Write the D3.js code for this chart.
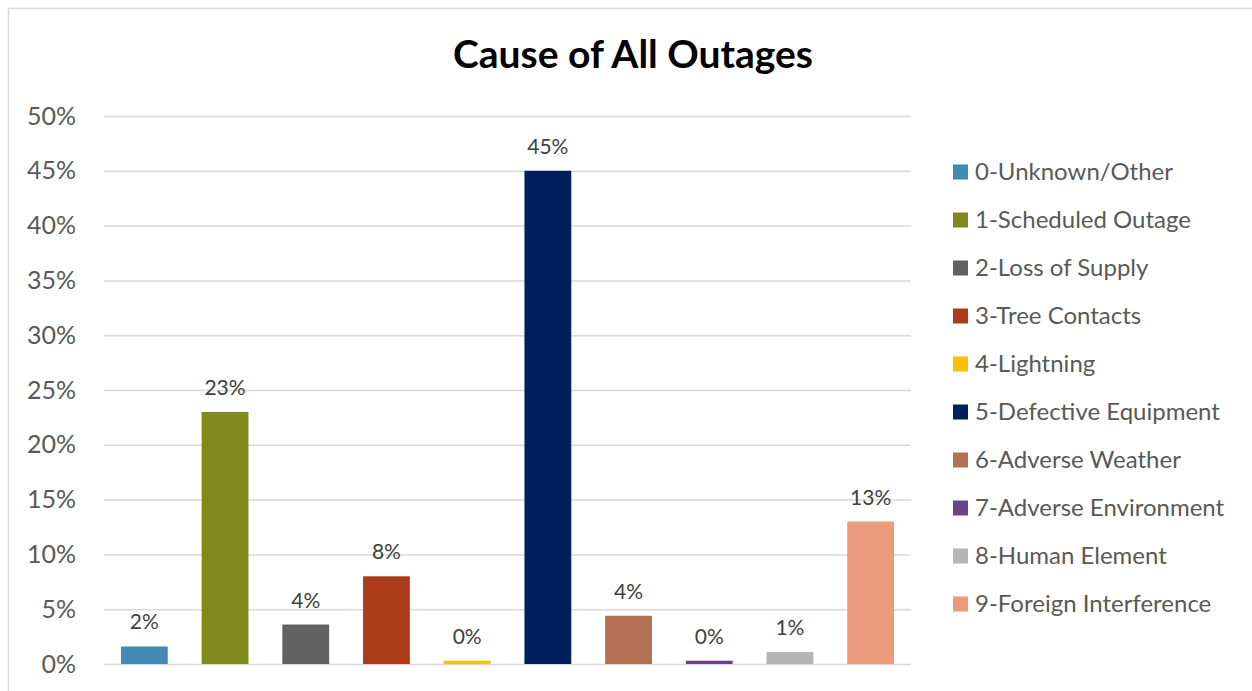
<!DOCTYPE html>
<html>
<head>
<meta charset="utf-8">
<script src="https://cdn.jsdelivr.net/npm/d3@7"></script>
<style>
  html, body { margin: 0; padding: 0; background: #ffffff; }
  svg { display: block; font-family: Lato, "Open Sans", sans-serif; }
</style>
</head>
<body>
<svg id="chart" width="1252" height="691"></svg>
<script>
// Outage causes and their share of all outages
const causes = [
  "0-Unknown/Other", "1-Scheduled Outage", "2-Loss of Supply", "3-Tree Contacts",
  "4-Lightning", "5-Defective Equipment", "6-Adverse Weather",
  "7-Adverse Environment", "8-Human Element", "9-Foreign Interference"
];
const shares = [0.016, 0.23, 0.036, 0.08, 0.003, 0.45, 0.044, 0.003, 0.011, 0.13];
const colors = [
  "#418ab3", "#7e8a1e", "#626262", "#ab3b1b", "#fcc000",
  "#011f5b", "#b37055", "#6a428a", "#b5b5b5", "#ec9a7c"
];
const yTicks = [0, 0.05, 0.10, 0.15, 0.20, 0.25, 0.30, 0.35, 0.40, 0.45, 0.50];
const title = "Cause of All Outages";

const svg = d3.select("#chart");
const W = 1252, H = 691;
const plot = { left: 104, right: 911, top: 116, bottom: 664 };
const pct = d3.format(".0%");

// Outer chart frame
svg.append("rect")
  .attr("x", 8.5).attr("y", 8.5)
  .attr("width", W).attr("height", H)
  .attr("fill", "none").attr("stroke", "#d9d9d9").attr("stroke-width", 1.5);

// Title
svg.append("text")
  .attr("x", 633).attr("y", 68)
  .attr("text-anchor", "middle")
  .attr("font-size", 39).attr("font-weight", 700)
  .attr("fill", "#000000")
  .text(title);

const x = d3.scaleBand()
  .domain(causes)
  .range([plot.left, plot.right])
  .paddingInner(0.42).paddingOuter(0.21);

const y = d3.scaleLinear()
  .domain([0, 0.5])
  .range([plot.bottom, plot.top]);

// Horizontal gridlines and percentage axis
const yAxis = d3.axisLeft(y)
  .tickValues(yTicks)
  .tickFormat(d3.format(".0%"))
  .tickSize(-(plot.right - plot.left))
  .tickPadding(28);

const gy = svg.append("g")
  .attr("transform", `translate(${plot.left},0)`)
  .call(yAxis);
gy.select(".domain").remove();
gy.selectAll(".tick line")
  .attr("stroke", "#d9d9d9").attr("stroke-width", 1.5);
gy.selectAll(".tick text")
  .attr("fill", "#595959")
  .attr("font-size", 25)
  .attr("font-family", "Lato, 'Open Sans', sans-serif");

// Bars
svg.append("g")
  .selectAll("rect")
  .data(causes)
  .join("rect")
  .attr("x", d => x(d))
  .attr("y", (d, i) => y(shares[i]))
  .attr("width", x.bandwidth())
  .attr("height", (d, i) => y(0) - y(shares[i]))
  .attr("fill", (d, i) => colors[i]);

// Value labels above bars
svg.append("g")
  .selectAll("text")
  .data(causes)
  .join("text")
  .attr("x", d => x(d) + x.bandwidth() / 2)
  .attr("y", (d, i) => y(shares[i]) - 17)
  .attr("text-anchor", "middle")
  .attr("font-size", 21)
  .attr("fill", "#404040")
  .text((d, i) => pct(shares[i]));

// Legend
const legend = svg.append("g")
  .selectAll("g")
  .data(causes)
  .join("g")
  .attr("transform", (d, i) => `translate(953,${172 + i * 48})`);
legend.append("rect")
  .attr("x", 0).attr("y", -7.5)
  .attr("width", 15).attr("height", 15)
  .attr("fill", (d, i) => colors[i]);
legend.append("text")
  .attr("x", 22).attr("y", 0)
  .attr("dy", "0.35em")
  .attr("font-size", 24)
  .attr("fill", "#595959")
  .text(d => d);
</script>
</body>
</html>
